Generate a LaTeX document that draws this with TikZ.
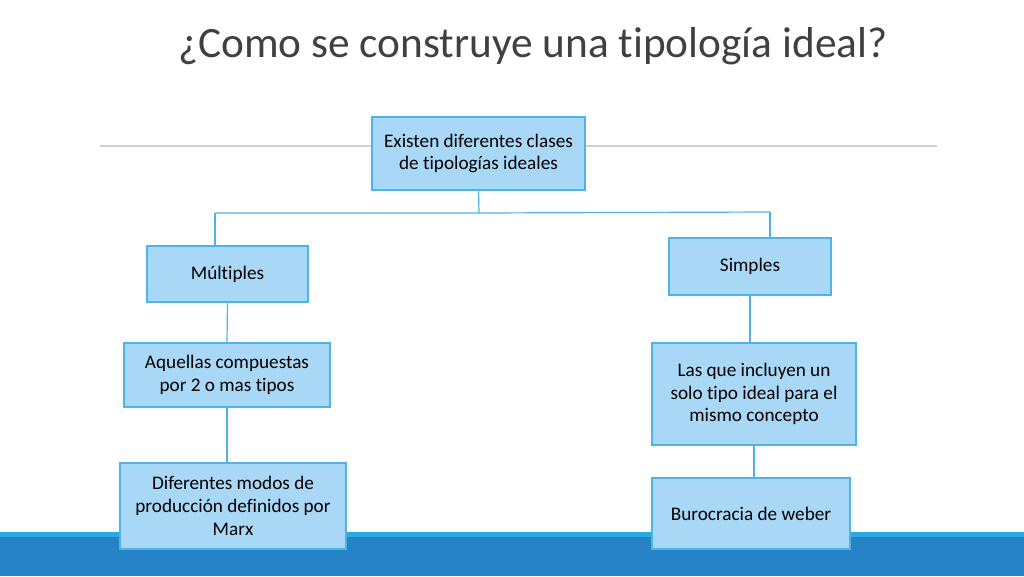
\documentclass[tikz,border=0pt]{standalone}
\usepackage{fontspec}
\setmainfont{Carlito}[Ligatures={NoCommon}]
\usepackage{tikz}

\definecolor{boxfill}{HTML}{A9D8F7}
\definecolor{boxline}{HTML}{4FB3E3}
\definecolor{titlegray}{HTML}{404040}
\definecolor{bandlight}{HTML}{29ABE2}
\definecolor{banddark}{HTML}{2683C6}

\begin{document}
\begin{tikzpicture}[x=0.75pt, y=-0.75pt,
  main/.style = {draw=boxline, line width=1.1pt, fill=boxfill, align=center,
                 font=\fontsize{14.4}{17}\selectfont, inner sep=2pt},
  link/.style = {draw=boxline, line width=0.9pt}]

\useasboundingbox (0,0) rectangle (1024,576);

%% background
\fill[banddark] (0,537) rectangle (1024,576);
\fill[bandlight] (0,532) rectangle (1024,537);
\draw[color=black!18, line width=1.4pt] (100,146) -- (937,146);

%% title
\node[text=titlegray, font=\fontsize{32.5}{38}\selectfont] (title) at (533,46) {¿Como se construye una tipología ideal?};

%% boxes
\node[main, minimum width=160pt, minimum height=55pt] (clases) at (478.5,153.5) {Existen diferentes clases\\de tipologías ideales};
\node[main, minimum width=121pt, minimum height=42pt] (multi) at (227.5,274) {Múltiples};
\node[main, minimum width=121.5pt, minimum height=43pt] (simp) at (750,266.5) {Simples};
\node[main, minimum width=154.5pt, minimum height=48pt] (aquellas) at (227,375) {Aquellas compuestas\\por 2 o mas tipos};
\node[main, minimum width=153pt, minimum height=76.5pt] (lasque) at (754,394) {Las que incluyen un\\solo tipo ideal para el\\mismo concepto};
\node[main, minimum width=169.5pt, minimum height=64.5pt] (modos) at (233,506) {Diferentes modos de\\producción definidos por\\Marx};
\node[main, minimum width=148.5pt, minimum height=53pt] (weber) at (751,513.5) {Burocracia de weber};

%%% edges
\coordinate (jm) at (479,213);
\coordinate (jl) at (215,213);
\coordinate (jr) at (770,212);
\draw[link] (clases.south) -- (jm);
\draw[link] (jl) -- (jm) -- (jr);
\draw[link] (jl) -- (jl |- multi.north);
\draw[link] (jr) -- (jr |- simp.north);
\draw[link] (multi.south) -- (aquellas.north);
\draw[link] (aquellas.south) -- (aquellas.south |- modos.north);
\draw[link] (simp.south) -- (simp.south |- lasque.north);
\draw[link] (lasque.south) -- (lasque.south |- weber.north);

\end{tikzpicture}
\end{document}
